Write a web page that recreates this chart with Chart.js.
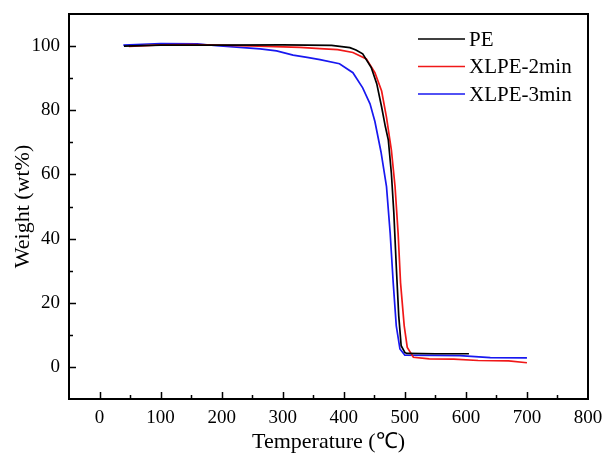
<!DOCTYPE html>
<html>
<head>
<meta charset="utf-8">
<script src="https://cdn.jsdelivr.net/npm/chart.js@4"></script>
<style>
  html, body { margin: 0; padding: 0; background: #fff; }
  #wrap { width: 604px; height: 453px; }
</style>
</head>
<body>
<div id="wrap"><canvas id="tga"></canvas></div>
<script>
// TGA curves (temperature in deg C, weight in wt%)
const peTemp = [40, 100, 200, 300, 380, 410, 420, 431, 445, 454, 462, 468, 473, 478, 482, 486, 490, 494, 500, 503, 550, 605];
const peWeight = [100, 100.3, 100.3, 100.4, 100.2, 99.5, 98.8, 97.6, 93.3, 88.3, 81, 75, 70.7, 60.3, 48, 31.4, 16, 6.6, 4.5, 4.2, 4.1, 4.1];

const xlpe2Temp = [48, 100, 150, 200, 260, 328, 361, 390, 415, 437, 451, 462, 470, 478, 484, 489, 493, 499, 504, 514, 540, 580, 620, 670, 700];
const xlpe2Weight = [99.9, 100.4, 100.5, 100.3, 100, 99.6, 99.2, 98.9, 98, 96, 91.7, 86, 77.8, 67.6, 56.2, 41.7, 26.2, 12.8, 6.1, 3.0, 2.5, 2.4, 2.0, 1.9, 1.3];

const xlpe3Temp = [39, 60, 100, 160, 192, 230, 263, 290, 317, 340, 361, 393, 415, 431, 443, 451, 461, 470, 476, 481, 486, 492, 500, 550, 590, 640, 700];
const xlpe3Weight = [100.3, 100.5, 100.8, 100.7, 100.1, 99.6, 99.1, 98.5, 97.2, 96.5, 95.8, 94.5, 91.7, 87, 82, 76.5, 67, 56.2, 41.7, 26.2, 12.8, 5.6, 3.7, 3.6, 3.5, 2.9, 2.8];

const seriesNames = ['PE', 'XLPE-2min', 'XLPE-3min'];
const seriesColors = ['#000000', '#f01818', '#1818f0'];

const xTicks = [0, 100, 200, 300, 400, 500, 600, 700, 800];
const yTicks = [0, 20, 40, 60, 80, 100];

const pairs = (xs, ys) => xs.map((v, i) => ({ x: v, y: ys[i] }));
const serif = 'Liberation Serif, Times New Roman, serif';

// box round the plot + inward tick marks (major and minor)
const frame = {
  id: 'frame',
  afterDatasetsDraw(chart) {
    const { ctx, chartArea: a, scales: { x, y } } = chart;
    ctx.save();
    ctx.strokeStyle = '#000';
    ctx.lineWidth = 1.5;
    ctx.beginPath();
    for (let v = 0; v < 800; v += 50) {
      const px = Math.round(x.getPixelForValue(v)) + 0.5;
      const len = v % 100 === 0 ? 7 : 4;
      ctx.moveTo(px, a.bottom);
      ctx.lineTo(px, a.bottom - len);
    }
    for (let v = 0; v <= 100; v += 10) {
      const py = Math.round(y.getPixelForValue(v)) + 0.5;
      const len = v % 20 === 0 ? 7 : 4;
      ctx.moveTo(a.left, py);
      ctx.lineTo(a.left + len, py);
    }
    ctx.stroke();
    ctx.lineWidth = 2;
    ctx.strokeRect(a.left, a.top, a.right - a.left, a.bottom - a.top);
    ctx.restore();
  }
};

// legend in the top right corner of the plot
const legendBox = {
  id: 'legendBox',
  afterDraw(chart) {
    const { ctx } = chart;
    ctx.save();
    ctx.font = '21px ' + serif;
    ctx.textBaseline = 'middle';
    ctx.fillStyle = '#000';
    seriesNames.forEach((name, i) => {
      const yy = 39 + i * 27.5;
      ctx.strokeStyle = seriesColors[i];
      ctx.lineWidth = 1.5;
      ctx.beginPath();
      ctx.moveTo(418, yy);
      ctx.lineTo(465, yy);
      ctx.stroke();
      ctx.fillText(name, 469, yy + 1);
    });
    ctx.restore();
  }
};

new Chart(document.getElementById('tga'), {
  type: 'line',
  data: {
    datasets: [
      { label: seriesNames[0], data: pairs(peTemp, peWeight) },
      { label: seriesNames[1], data: pairs(xlpe2Temp, xlpe2Weight) },
      { label: seriesNames[2], data: pairs(xlpe3Temp, xlpe3Weight) }
    ].map((d, i) => ({
      ...d,
      borderColor: seriesColors[i],
      borderWidth: 1.7,
      pointRadius: 0,
      tension: 0,
      fill: false
    }))
  },
  options: {
    responsive: true,
    maintainAspectRatio: false,
    animation: false,
    layout: { padding: { top: 14, right: 16, left: 0, bottom: 0 } },
    plugins: { legend: { display: false }, tooltip: { enabled: false } },
    scales: {
      x: {
        type: 'linear',
        min: -50,
        max: 800,
        afterBuildTicks: s => { s.ticks = xTicks.map(v => ({ value: v })); },
        afterFit: s => { s.height = 54; s.paddingLeft = 0; s.paddingRight = 0; },
        grid: { display: false, drawTicks: false },
        border: { display: false },
        ticks: { color: '#000', font: { family: serif, size: 19 }, padding: 8, maxRotation: 0 },
        title: { display: true, text: 'Temperature (℃)', color: '#000', font: { family: serif, size: 22, lineHeight: 1 }, padding: { top: 0, bottom: 0 } }
      },
      y: {
        min: -10,
        max: 110,
        afterBuildTicks: s => { s.ticks = yTicks.map(v => ({ value: v })); },
        afterFit: s => { s.width = 69; s.paddingTop = 0; s.paddingBottom = 0; },
        grid: { display: false, drawTicks: false },
        border: { display: false },
        ticks: { color: '#000', font: { family: serif, size: 19 }, padding: 9 },
        title: { display: true, text: 'Weight (wt%)', color: '#000', font: { family: serif, size: 22, lineHeight: 1 }, padding: { top: 12, bottom: 0 } }
      }
    }
  },
  plugins: [frame, legendBox]
});
</script>
</body>
</html>
